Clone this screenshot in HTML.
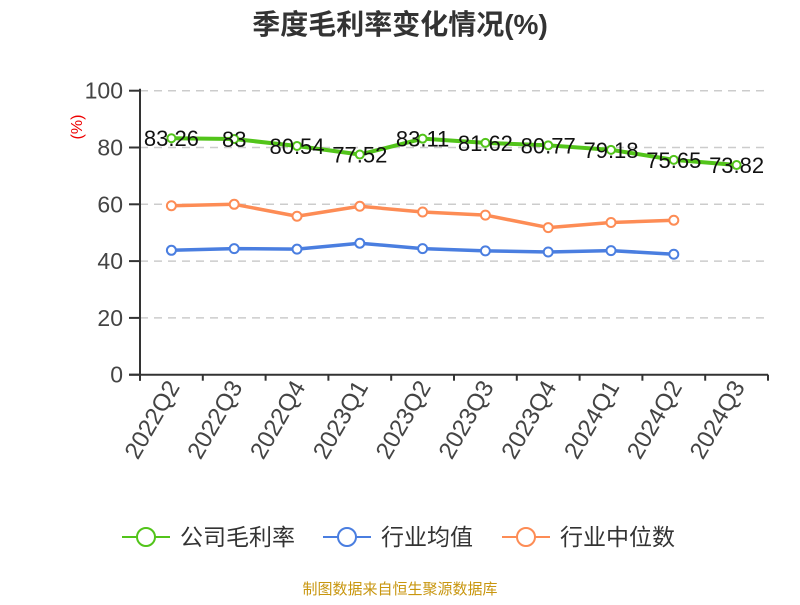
<!DOCTYPE html>
<html><head><meta charset="utf-8"><style>
body{margin:0;background:#fff;width:800px;height:600px;overflow:hidden;font-family:"Liberation Sans","Noto Sans CJK SC",sans-serif}
</style></head><body>
<svg width="800" height="600" xmlns="http://www.w3.org/2000/svg" font-family="Liberation Sans, Noto Sans CJK SC, sans-serif">
<text x="400" y="34" text-anchor="middle" font-size="28" font-weight="bold" fill="#333">季度毛利率变化情况(%)</text>
<text transform="translate(82,127) rotate(-90)" text-anchor="middle" font-size="16" fill="#e00">(%)</text>
<g id="grid"></g><g id="axes"></g><g id="series"></g>
<g>
<g><line x1="122" y1="537" x2="170" y2="537" stroke="#52c41a" stroke-width="2"/><circle cx="146" cy="537" r="9" fill="#fff" stroke="#52c41a" stroke-width="2"/><text x="180" y="545" font-size="23" fill="#333">公司毛利率</text></g>
<g><line x1="323" y1="537" x2="371" y2="537" stroke="#4a7ee0" stroke-width="2"/><circle cx="347" cy="537" r="9" fill="#fff" stroke="#4a7ee0" stroke-width="2"/><text x="381" y="545" font-size="23" fill="#333">行业均值</text></g>
<g><line x1="502" y1="537" x2="550" y2="537" stroke="#fd8c55" stroke-width="2"/><circle cx="526" cy="537" r="9" fill="#fff" stroke="#fd8c55" stroke-width="2"/><text x="560" y="545" font-size="23" fill="#333">行业中位数</text></g>
</g>
<text x="400" y="594" text-anchor="middle" font-size="15" fill="#c8960f">制图数据来自恒生聚源数据库</text>
</svg>
<script>
const categories=["2022Q2","2022Q3","2022Q4","2023Q1","2023Q2","2023Q3","2023Q4","2024Q1","2024Q2","2024Q3"];
const companyValues=[83.26,83,80.54,77.52,83.11,81.62,80.77,79.18,75.65,73.82];
const industryAvg=[43.8,44.4,44.2,46.3,44.4,43.6,43.2,43.7,42.4];
const industryMedian=[59.5,60,55.8,59.3,57.3,56.2,51.8,53.6,54.4];
const yTicks=[0,20,40,60,80,100];
const NS="http://www.w3.org/2000/svg";
const X0=140,X1=768,Y0=374.7,Y100=90.7;
const bw=(X1-X0)/categories.length;
const xs=i=>X0+bw*(i+0.5);
const ys=v=>Y0-(Y0-Y100)*v/100;
function mk(tag,attrs,parent){const e=document.createElementNS(NS,tag);for(const k in attrs)e.setAttribute(k,attrs[k]);parent.appendChild(e);return e;}
const grid=document.getElementById('grid'),axes=document.getElementById('axes'),ser=document.getElementById('series');
yTicks.forEach(t=>{
 if(t>0){const g=mk('line',{x1:X0,x2:X1,y1:ys(t),y2:ys(t),stroke:'#ccc','stroke-dasharray':'8,6','stroke-width':1.5},grid);
 
 }
 const tk=mk('line',{x1:X0-11,x2:X0,y1:ys(t),y2:ys(t),stroke:'#333','stroke-width':2},axes);
 
 
 const lb=mk('text',{x:X0-17,y:ys(t)+8,'text-anchor':'end','font-size':23,fill:'#444'},axes);lb.textContent=t;
 
 
});
const ya=mk('line',{x1:X0,x2:X0,y1:Y100-2,y2:Y0+6,stroke:'#333','stroke-width':2},axes);


const xa=mk('line',{x1:X0-11,x2:X1,y1:Y0,y2:Y0,stroke:'#333','stroke-width':2},axes);


for(let i=0;i<=categories.length;i++){const tk=mk('line',{x1:X0+bw*i,x2:X0+bw*i,y1:Y0,y2:Y0+6,stroke:'#333','stroke-width':2},axes);
 
 }
categories.forEach((c,i)=>{const t=mk('text',{transform:`translate(${xs(i)+9},${Y0+12}) rotate(-60)`,'text-anchor':'end','font-size':24,fill:'#444'},axes);t.textContent=c;
 
 });
function series(vals,color,name,w,labels){
 const p=mk('polyline',{points:vals.map((v,i)=>xs(i)+','+ys(v)).join(' '),fill:'none',stroke:color,'stroke-width':w,'stroke-linejoin':'round'},ser);
 
 
 vals.forEach((v,i)=>{const c=mk('circle',{cx:xs(i),cy:ys(v),r:labels?4:4.5,fill:'#fff',stroke:color,'stroke-width':2},ser);
  
  
  if(labels){const t=mk('text',{x:xs(i),y:ys(v)+8,'text-anchor':'middle','font-size':22,fill:'#111'},ser);t.textContent=v;
   
   }
 });
}
series(industryMedian,'#fd8c55','industry-median',3.5,false);
series(industryAvg,'#4a7ee0','industry-avg',3.5,false);
series(companyValues,'#52c41a','company',4,true);
</script>
</body></html>
